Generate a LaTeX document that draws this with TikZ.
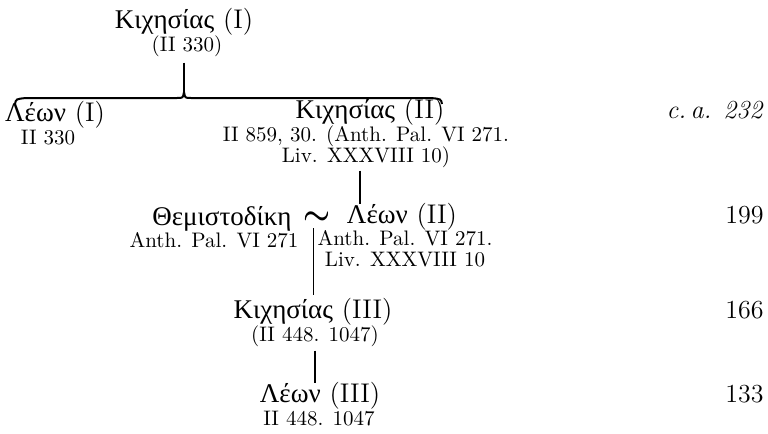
\documentclass[tikz,border=0pt]{standalone}
\usepackage{fontspec}
\usepackage{tikz}
\usetikzlibrary{positioning}
\newfontfamily\greekfont{Liberation Serif}
\newcommand{\gname}[2]{{\greekfont #1}\ (#2)}

\begin{document}
\begin{tikzpicture}[x=0.5pt,y=-0.5pt,
    pname/.style={inner sep=0pt,font=\fontsize{13.5}{15}\selectfont},
    psrc/.style={inner sep=0pt,align=center,font=\fontsize{10.5}{10.5}\selectfont},
    pyear/.style={inner sep=0pt,anchor=base east,font=\fontsize{13}{15}\selectfont},
    stem/.style={line width=0.6pt}]
    \useasboundingbox (0,0) rectangle (768,434);

    \node[pname,anchor=base] (kich1) at (184,28) {\gname{Κιχησίας}{I}};
    \node[psrc,anchor=base] (kich1src) at (187,51) {(II 330)};
    \node[pname,anchor=base] (leon1) at (55,121) {\gname{Λέων}{I}};
    \node[psrc,anchor=base] (leon1src) at (48,144) {II 330};
    \node[pname,anchor=base] (kich2) at (370,118) {\gname{Κιχησίας}{II}};
    \node[psrc,anchor=base] (kich2src) at (366,162) {II 859, 30. (Anth. Pal. VI 271.\\Liv. XXXVIII 10)};

    \node[pname,anchor=base] (themi) at (222,225) {{\greekfont Θεμιστοδίκη}};
    \node[psrc,anchor=base] (themisrc) at (214,247) {Anth. Pal. VI 271};
    \node[inner sep=1pt,font=\fontsize{16}{16}\selectfont] (wed) at (317,219)
        {\rlap{$\sim$}\raisebox{0.5pt}{$\sim$}};
    \node[pname,anchor=base] (leon2) at (402,223) {\gname{Λέων}{II}};
    \node[psrc,anchor=base] (leon2src) at (405,266) {Anth. Pal. VI 271.\\Liv. XXXVIII 10};

    \node[pname,anchor=base] (kich3) at (313,318) {\gname{Κιχησίας}{III}};
    \node[psrc,anchor=base] (kich3src) at (315,341) {(II 448. 1047)};
    \node[pname,anchor=base] (leon3) at (320,402) {\gname{Λέων}{III}};
    \node[psrc,anchor=base] (leon3src) at (319,425) {II 448. 1047};

    % years on the right margin
    \coordinate (margin) at (764,0);
    \node[pyear] (y232) at (margin |- kich2.base) {\textit{c.\,a. 232}};
    \node[pyear] (y199) at (margin |- leon2.base) {199};
    \node[pyear] (y166) at (margin |- kich3.base) {166};
    \node[pyear] (y133) at (margin |- leon3.base) {133};

    % brace under Kichesias (I)
    \coordinate (fork) at (184,92);
    \coordinate (forkL) at (15,104);
    \coordinate (forkR) at (442,104);
    \draw[stem] ([yshift=-3pt]kich1src.south -| fork) -- (fork);
    \draw[line width=1pt] (forkL) .. controls (16,99) .. (26,98) -- (177,98)
        .. controls (183,98) .. (fork) .. controls (185,98) .. (191,98)
        -- (431,98) .. controls (441,99) .. (forkR);

    \coordinate (drop) at (360,0);
    \draw[stem] ([yshift=-1.5pt]drop |- kich2src.south) -- ([yshift=-1pt]drop |- leon2.north);
    \draw[stem,line width=0.4pt] (kich3.north |- wed.south) -- ([yshift=1pt]kich3.north);
    \draw[stem] ([yshift=-2pt]kich3src.south) -- ([yshift=-1pt]kich3src.south |- leon3.north);
\end{tikzpicture}
\end{document}
